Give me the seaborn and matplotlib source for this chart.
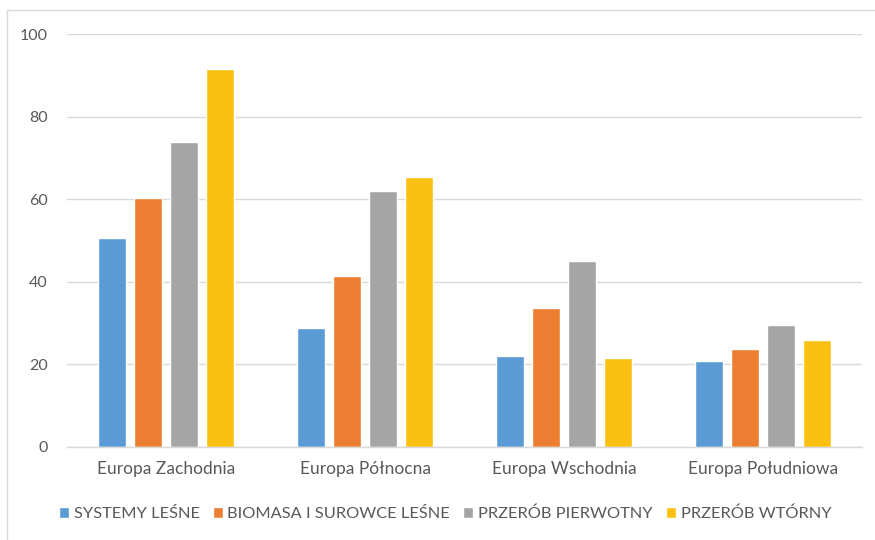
import matplotlib
matplotlib.use("Agg")
import matplotlib.pyplot as plt
import seaborn as sns
import pandas as pd
from matplotlib.patches import Rectangle

regions = ["Europa Zachodnia", "Europa Północna", "Europa Wschodnia", "Europa Południowa"]
series = ["SYSTEMY LEŚNE", "BIOMASA I SUROWCE LEŚNE", "PRZERÓB PIERWOTNY", "PRZERÓB WTÓRNY"]
systemy = [50.6, 28.8, 22.0, 20.8]
biomasa = [60.3, 41.4, 33.7, 23.7]
pierwotny = [73.8, 62.0, 45.0, 29.5]
wtorny = [91.5, 65.4, 21.5, 25.9]
colors = ["#5B9BD5", "#ED7D31", "#A5A5A5", "#FBC012"]
yticks = [0, 20, 40, 60, 80, 100]

rows = []
for s, vals in zip(series, [systemy, biomasa, pierwotny, wtorny]):
    for r, v in zip(regions, vals):
        rows.append({"region": r, "series": s, "value": v})
df = pd.DataFrame(rows)

sns.set_theme(style="white")
plt.rcParams["font.family"] = ["Lato", "DejaVu Sans"]

fig = plt.figure(figsize=(8.75, 5.4), dpi=100)
ax = fig.add_axes([67/875, 1-447/540, (862-67)/875, (447-34)/540])

sns.barplot(data=df, x="region", y="value", hue="series", order=regions,
            hue_order=series, palette=colors, width=0.725, gap=0.22,
            saturation=1, ax=ax, legend=True)

ax.set_ylim(0, 100)
ax.set_yticks(yticks)
ax.set_yticklabels([str(t) for t in yticks])
ax.set_xlabel("")
ax.set_ylabel("")
ax.yaxis.grid(True, color="#D9D9D9", linewidth=1.0)
ax.set_axisbelow(True)
for side in ["top", "right", "left"]:
    ax.spines[side].set_visible(False)
ax.spines["bottom"].set_color("#D9D9D9")
ax.spines["bottom"].set_linewidth(1.0)
ax.tick_params(axis="y", length=0, pad=14, labelsize=11.5, labelcolor="#595959")
ax.tick_params(axis="x", length=0, pad=10, labelsize=12.5, labelcolor="#595959")

handles, labels = ax.get_legend_handles_labels()
ax.legend_.remove()
fig.legend(handles, labels, loc="center", bbox_to_anchor=(445/875, 1-514/540),
           ncol=4, frameon=False, fontsize=11.8, labelcolor="#595959",
           handlelength=0.6, handleheight=0.6, handletextpad=0.3,
           columnspacing=0.8)

fig.patches.append(Rectangle((7/875, -0.1), 1.2, 1 - 10/540 + 0.1,
                             transform=fig.transFigure, fill=False,
                             edgecolor="#D9D9D9", linewidth=1.0))

fig.savefig("out.png", dpi=100)
